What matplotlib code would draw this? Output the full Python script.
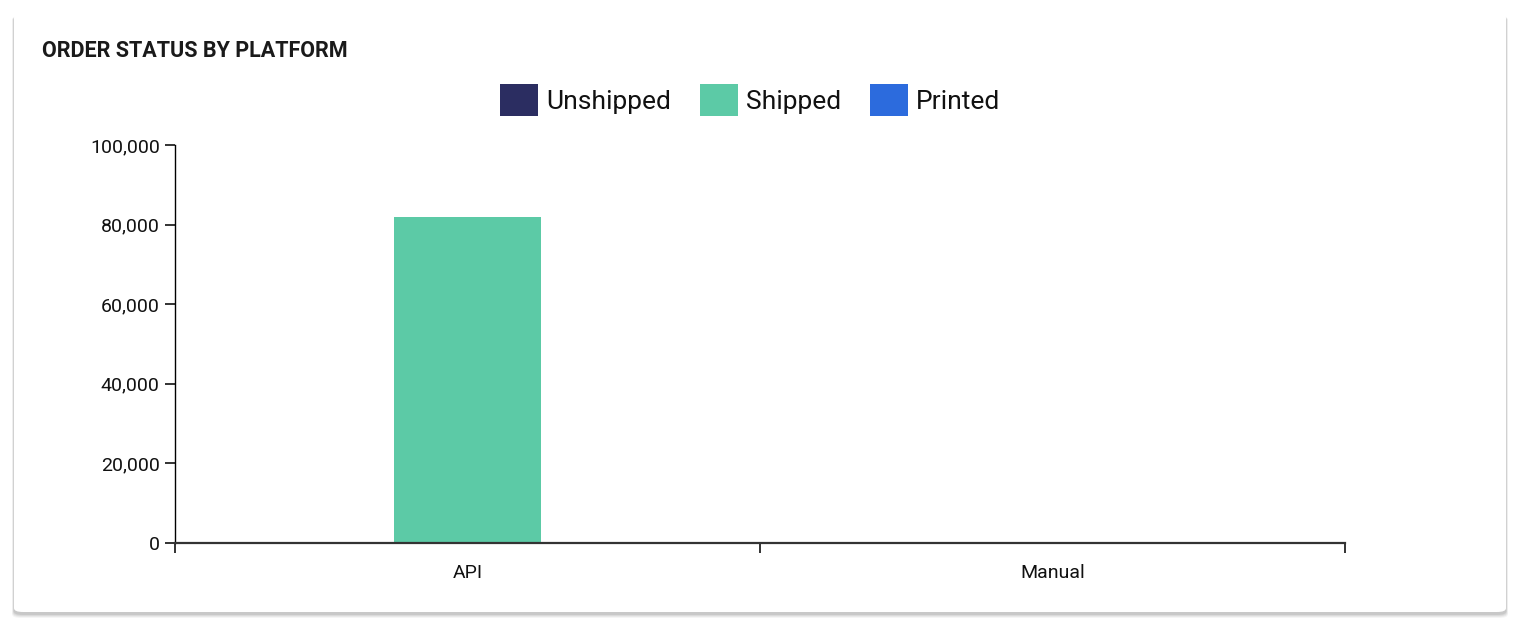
import matplotlib
matplotlib.use("Agg")
import matplotlib.pyplot as plt
import numpy as np
from matplotlib.patches import FancyBboxPatch, Patch
from matplotlib.ticker import FuncFormatter

platforms = ["API", "Manual"]
statuses = ["Unshipped", "Shipped", "Printed"]
colors = ["#2b2d61", "#5ccaa6", "#2c6bdd"]
values = {
    "Unshipped": [0, 0],
    "Shipped": [81900, 0],
    "Printed": [0, 0],
}

plt.rcParams["font.family"] = ["Roboto", "DejaVu Sans"]

fig = plt.figure(figsize=(15.26, 6.3), dpi=100)
fig.patch.set_facecolor("white")

W, H = 1526, 630
# soft card shadow
for i, a in enumerate([0.04, 0.05, 0.06, 0.08]):
    off = 4 - i
    sh = FancyBboxPatch(((14 - off * 0.5) / W, (630 - 614 - off) / H),
                        (1492 + off) / W, (598 + off) / H,
                        boxstyle="round,pad=0,rounding_size=0.006",
                        transform=fig.transFigure, facecolor="black",
                        edgecolor="none", alpha=a, zorder=-3)
    fig.patches.append(sh)
card = FancyBboxPatch((14 / W, (630 - 612) / H), 1492 / W, 598 / H,
                      boxstyle="round,pad=0,rounding_size=0.006",
                      transform=fig.transFigure, facecolor="white",
                      edgecolor="none", zorder=-2)
fig.patches.append(card)

fig.text(42 / W, 1 - 51 / H, "ORDER STATUS BY PLATFORM", fontsize=15.5,
         fontweight="bold", color="#1a1a1a", va="center", ha="left")

ax = fig.add_axes([175 / W, 1 - 543 / H, 1170 / W, 398 / H])
ax.set_facecolor("none")

x = np.arange(len(platforms))
bw = 0.25
for i, s in enumerate(statuses):
    ax.bar(x + (i - 1) * bw, values[s], width=bw, color=colors[i], zorder=2)

ax.set_xlim(-0.5, len(platforms) - 0.5)
ax.set_ylim(0, 100000)
ax.set_yticks(np.arange(0, 100001, 20000))
ax.yaxis.set_major_formatter(FuncFormatter(lambda v, p: f"{int(v):,}"))
ax.set_xticks(x)
ax.set_xticklabels(platforms)
ax.set_xticks(np.arange(-0.5, len(platforms)), minor=True)
ax.tick_params(axis="x", which="major", length=0, pad=15, labelsize=14, colors="#111")
ax.tick_params(axis="x", which="minor", length=7, width=1.2, color="#111")
ax.tick_params(axis="y", length=7, width=1.2, color="#111", labelsize=14, pad=4,
               labelcolor="#111")

for sp in ["top", "right"]:
    ax.spines[sp].set_visible(False)
ax.spines["left"].set_linewidth(1.0)
ax.spines["bottom"].set_linewidth(1.6)
ax.spines["bottom"].set_color("#333")

handles = [Patch(facecolor=c, edgecolor="none") for c in colors]
fig.legend(handles, statuses, loc="center", bbox_to_anchor=(750 / W, 1 - 100 / H),
           ncol=3, frameon=False, fontsize=19, handlelength=1.45, handleheight=1.45,
           handletextpad=0.3, columnspacing=1.1, labelcolor="#111")

fig.savefig("out.png", dpi=100)
